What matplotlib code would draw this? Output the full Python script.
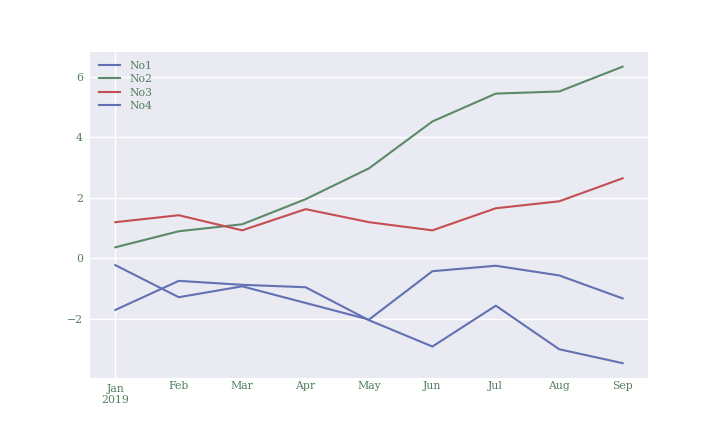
import matplotlib
matplotlib.use('Agg')
import matplotlib.pyplot as plt
from matplotlib.ticker import FixedLocator, FixedFormatter

meses = ['Jan\n2019', 'Feb', 'Mar', 'Apr', 'May', 'Jun', 'Jul', 'Aug', 'Sep']
no1 = [-0.23, -1.29, -0.93, -1.48, -2.03, -0.43, -0.25, -0.57, -1.33]
no2 = [0.36, 0.89, 1.12, 1.95, 2.97, 4.52, 5.44, 5.51, 6.33]
no3 = [1.19, 1.42, 0.92, 1.62, 1.19, 0.92, 1.65, 1.88, 2.64]
no4 = [-1.71, -0.75, -0.88, -0.96, -2.05, -2.92, -1.57, -3.01, -3.47]

COLOR_TEXTO = '#527e5f'
plt.rcParams['font.family'] = ['DejaVu Serif']
plt.rcParams['font.size'] = 7.8

fig = plt.figure(figsize=(7.2, 4.32), dpi=100)
ax = fig.add_axes([0.125, 0.125, 0.775, 0.755])
ax.set_facecolor('#eaeaf2')
for s in ax.spines.values():
    s.set_visible(False)

x = list(range(len(meses)))
ax.plot(x, no1, color='#6370b3', lw=1.5, label='No1')
ax.plot(x, no2, color='#5a8a68', lw=1.5, label='No2')
ax.plot(x, no3, color='#c44e52', lw=1.5, label='No3')
ax.plot(x, no4, color='#6370b3', lw=1.5, label='No4')

# tick mayor solo en enero (como pandas), el resto menores
ax.xaxis.set_major_locator(FixedLocator([0]))
ax.xaxis.set_major_formatter(FixedFormatter([meses[0]]))
ax.xaxis.set_minor_locator(FixedLocator(x[1:]))
ax.xaxis.set_minor_formatter(FixedFormatter(meses[1:]))
ax.set_yticks([-2, 0, 2, 4, 6])
ax.set_yticklabels(['\u22122', '0', '2', '4', '6'])

ax.tick_params(axis='x', which='major', length=0, pad=4, labelcolor=COLOR_TEXTO)
ax.tick_params(axis='x', which='minor', length=0, pad=2.5, labelcolor=COLOR_TEXTO)
ax.tick_params(axis='y', length=0, pad=5, labelcolor=COLOR_TEXTO)

ax.grid(True, which='major', color='white', lw=1)
ax.set_axisbelow(True)

leg = ax.legend(loc='upper left', frameon=False, handlelength=2.0,
                labelspacing=0.33, borderaxespad=0.4)
for t in leg.get_texts():
    t.set_color(COLOR_TEXTO)

fig.savefig('out.png', dpi=100)
